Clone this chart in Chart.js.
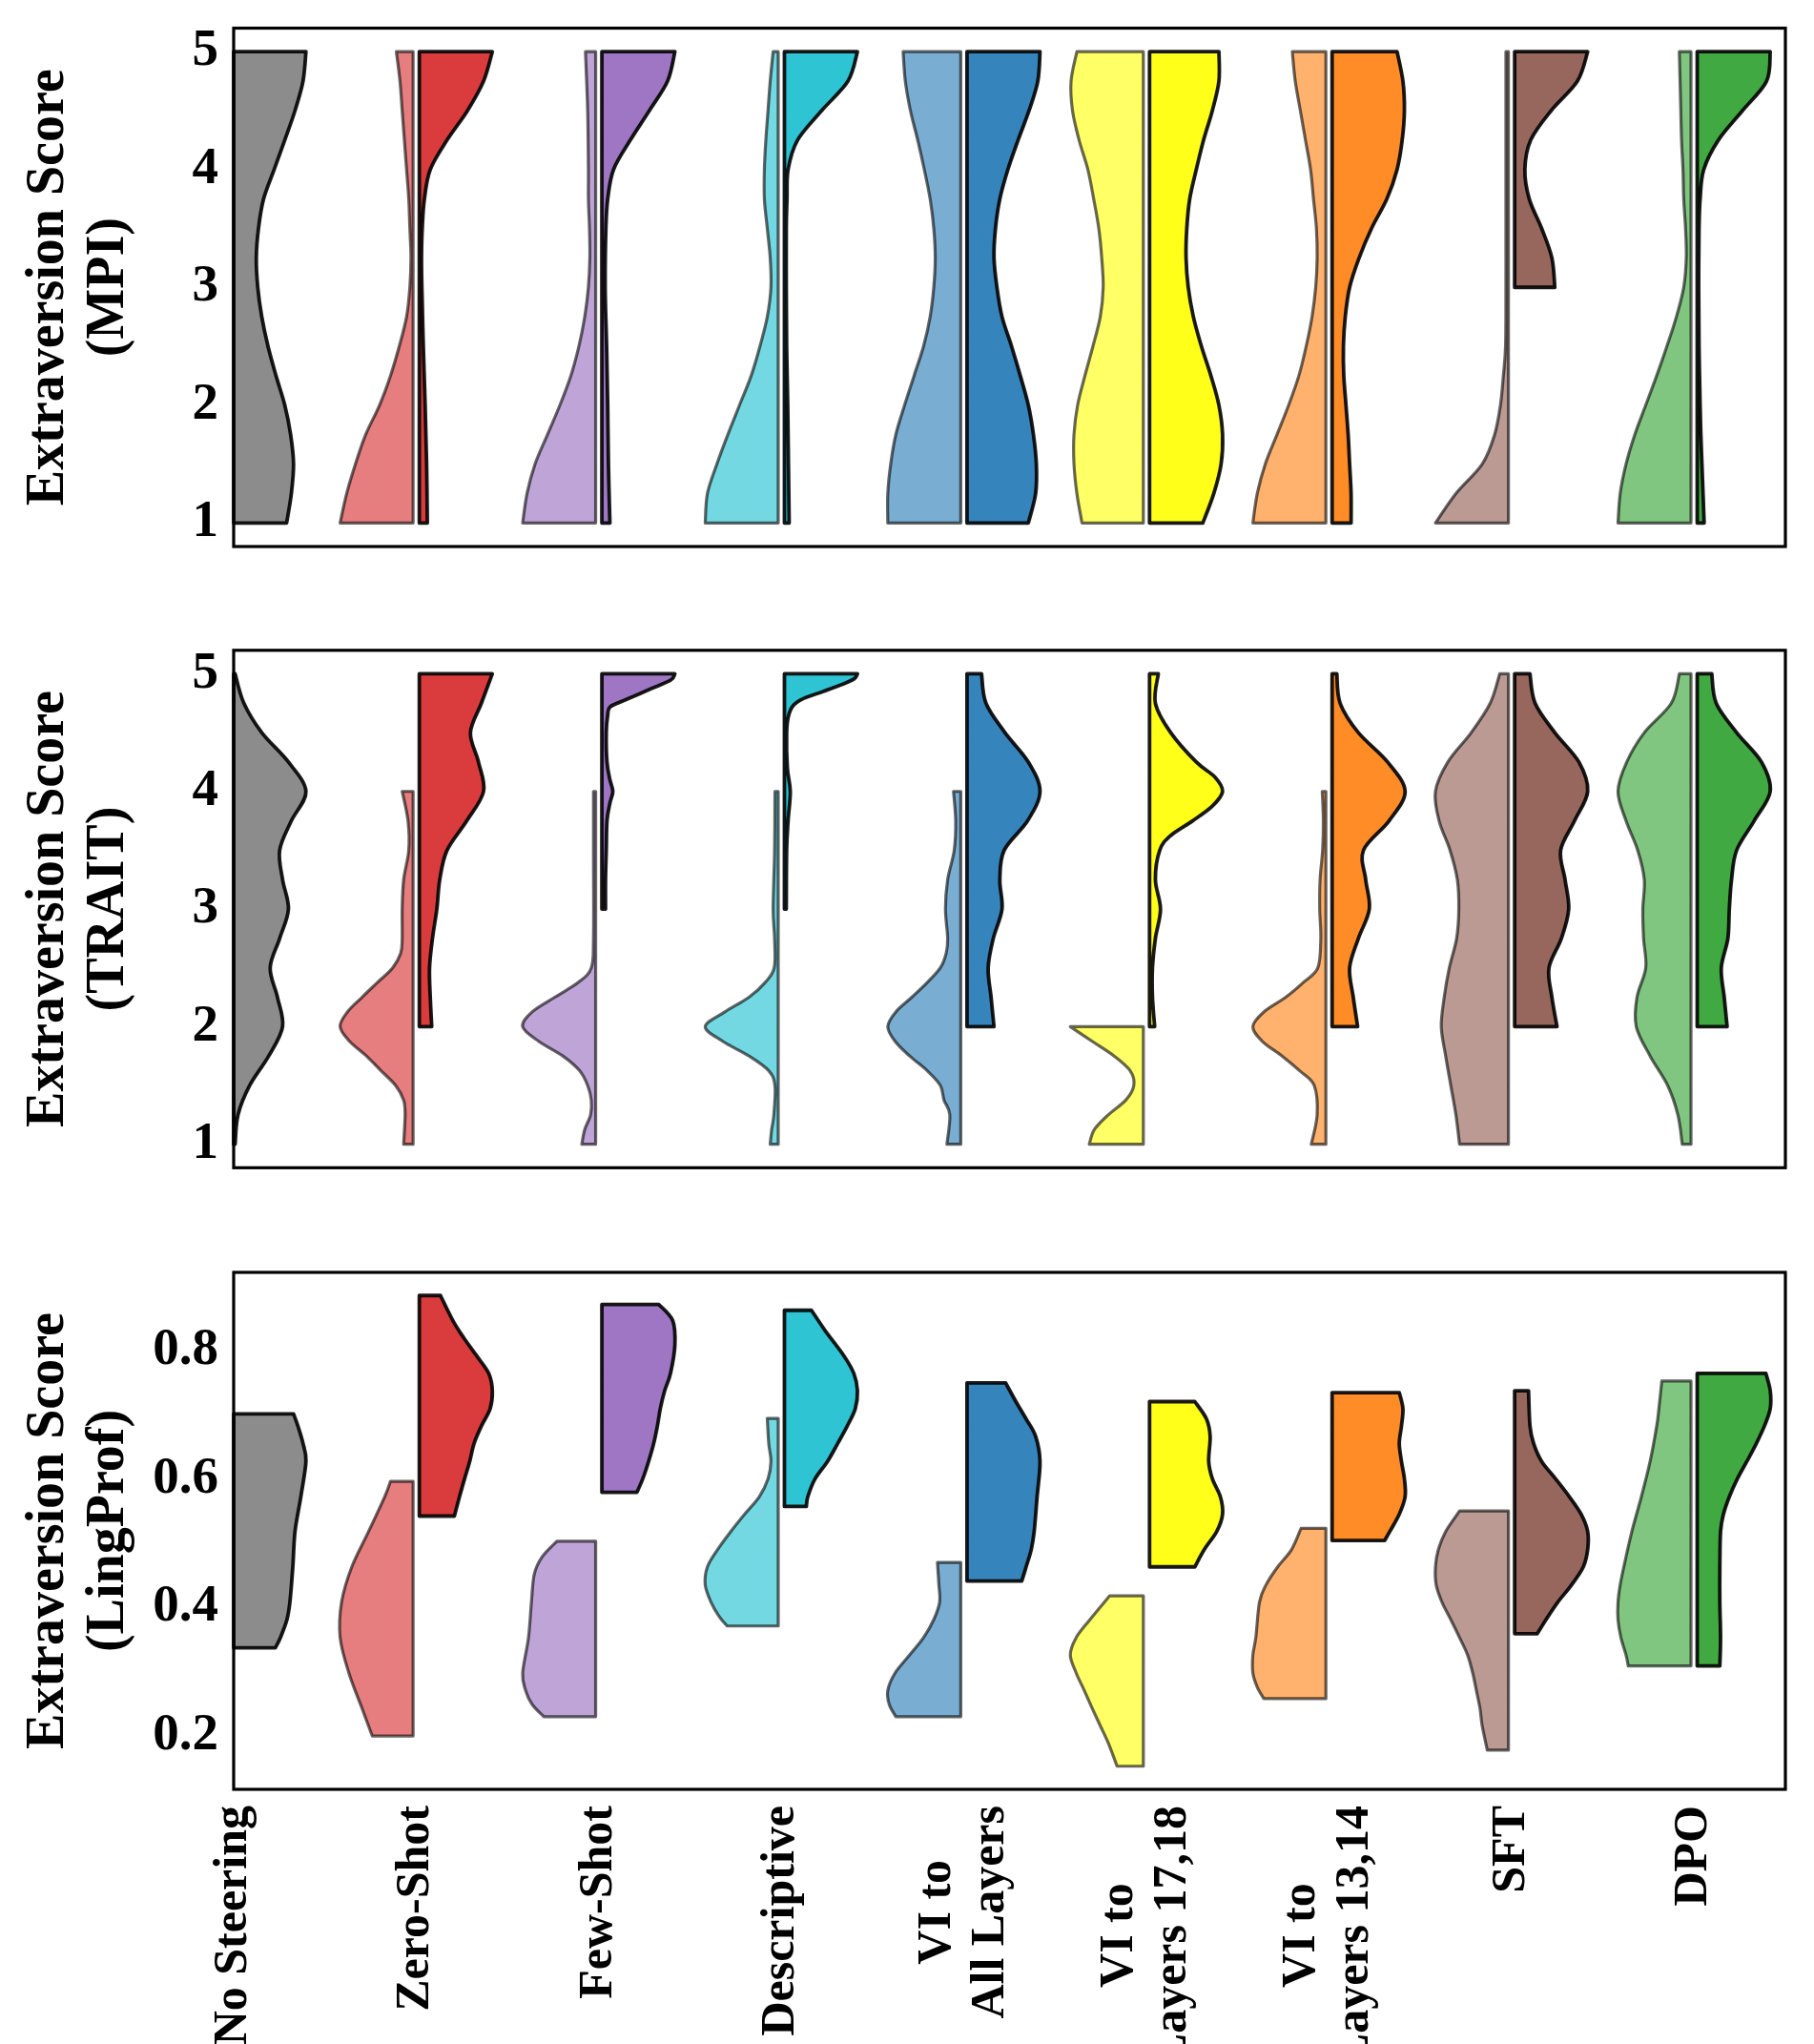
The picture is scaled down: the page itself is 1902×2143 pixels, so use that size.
<!DOCTYPE html>
<html>
<head>
<meta charset="utf-8">
<script src="https://cdn.jsdelivr.net/npm/chart.js@4.4.1/dist/chart.umd.min.js"></script>
<style>
  html, body { margin: 0; padding: 0; background: #fff; }
  body { width: 1902px; height: 2143px; position: relative; overflow: hidden; }
  .panel { position: absolute; left: 0; }
</style>
</head>
<body>
<div class="panel" style="top:0px"><canvas id="mpi" width="1902" height="620"></canvas></div>
<div class="panel" style="top:630px"><canvas id="trait" width="1902" height="620"></canvas></div>
<div class="panel" style="top:1260px"><canvas id="ling" width="1902" height="883"></canvas></div>
<script>
// categories along x
const methods = ["No Steering", "Zero-Shot", "Few-Shot", "Descriptive", "VI to All Layers",
  "VI to Layers 17,18", "VI to Layers 13,14", "SFT", "DPO"];
const methodLabels = [["No Steering"], ["Zero-Shot"], ["Few-Shot"], ["Descriptive"],
  ["VI to", "All Layers"], ["VI to", "Layers 17,18"], ["VI to", "Layers 13,14"], ["SFT"], ["DPO"]];
const colors = ["#7f7f7f", "#d62728", "#9467bd", "#17becf", "#1f77b4", "#ffff00", "#ff7f0e", "#8c564b", "#2ca02c"];

const scoreTicks = [1, 2, 3, 4, 5];
const lingTicks = [0.2, 0.4, 0.6, 0.8];

// violin outlines: [score, relative half width], bottom to top
// left halves (light) and right halves (dark), one entry per method
const mpiLeft = [
  null,
  [[1,1],[1.25,.91],[1.5,.79],[1.75,.65],[2,.46],[2.25,.31],[2.5,.19],[2.75,.09],[3,.045],[3.25,.03],[3.5,.045],[3.75,.06],[4,.09],[4.25,.12],[4.5,.15],[4.75,.18],[5,.23]],
  [[1,1],[1.25,.94],[1.5,.83],[1.75,.66],[2,.49],[2.25,.34],[2.5,.23],[2.75,.15],[3,.10],[3.25,.08],[3.5,.085],[3.75,.10],[4,.10],[4.5,.11],[5,.14]],
  [[1,1],[1.25,.97],[1.5,.84],[1.75,.69],[2,.53],[2.25,.37],[2.5,.25],[2.75,.15],[3,.10],[3.25,.11],[3.5,.15],[3.75,.19],[4,.19],[4.25,.17],[4.5,.14],[4.75,.11],[5,.07]],
  [[1,1],[1.25,1],[1.5,.96],[1.75,.89],[2,.77],[2.25,.64],[2.5,.51],[2.75,.42],[3,.37],[3.25,.35],[3.5,.37],[3.75,.42],[4,.50],[4.25,.59],[4.5,.69],[4.75,.76],[5,.79]],
  [[1,.84],[1.25,.91],[1.5,.95],[1.75,.95],[2,.90],[2.25,.80],[2.5,.69],[2.75,.59],[3,.55],[3.25,.57],[3.5,.61],[3.75,.68],[4,.76],[4.25,.88],[4.5,.97],[4.75,.99],[5,.91]],
  [[1,1],[1.25,.94],[1.5,.83],[1.75,.67],[2,.51],[2.25,.37],[2.5,.27],[2.75,.19],[3,.14],[3.25,.12],[3.5,.13],[3.75,.17],[4,.21],[4.25,.28],[4.5,.35],[4.75,.42],[5,.46]],
  [[1,1],[1.25,.72],[1.5,.36],[1.75,.19],[2,.11],[2.25,.07],[2.5,.04],[3,.035],[4,.035],[5,.035]],
  [[1,1],[1.25,.97],[1.5,.89],[1.75,.77],[2,.62],[2.25,.47],[2.5,.33],[2.75,.20],[3,.10],[3.25,.065],[3.5,.075],[3.75,.10],[4,.11],[4.25,.13],[4.5,.14],[4.75,.15],[5,.16]]
];
const mpiRight = [
  [[1,.725],[1.25,.79],[1.5,.82],[1.75,.78],[2,.70],[2.25,.58],[2.5,.47],[2.75,.385],[3,.33],[3.25,.31],[3.5,.34],[3.75,.41],[4,.555],[4.25,.70],[4.5,.84],[4.75,.95],[5,.99]],
  [[1,.11],[1.5,.10],[2,.08],[2.5,.055],[3,.035],[3.25,.03],[3.5,.04],[3.75,.07],[4,.15],[4.25,.38],[4.5,.66],[4.75,.88],[5,1]],
  [[1,.11],[1.5,.09],[2,.08],[2.5,.065],[3,.045],[3.5,.055],[3.75,.08],[4,.16],[4.25,.39],[4.5,.65],[4.75,.90],[5,1]],
  [[1,.065],[1.5,.055],[2,.045],[2.5,.03],[3,.025],[3.5,.025],[3.75,.035],[4,.05],[4.25,.18],[4.5,.51],[4.75,.87],[5,1]],
  [[1,.84],[1.25,.94],[1.5,.95],[1.75,.91],[2,.84],[2.25,.73],[2.5,.61],[2.75,.48],[3,.41],[3.25,.37],[3.5,.39],[3.75,.45],[4,.56],[4.25,.70],[4.5,.85],[4.75,.97],[5,1]],
  [[1,.73],[1.25,.88],[1.5,.98],[1.75,1],[2,.95],[2.25,.84],[2.5,.71],[2.75,.60],[3,.53],[3.25,.50],[3.5,.51],[3.75,.55],[4,.64],[4.25,.74],[4.5,.86],[4.75,.95],[5,.95]],
  [[1,.26],[1.25,.26],[1.5,.24],[1.75,.22],[2,.19],[2.25,.16],[2.5,.155],[2.75,.18],[3,.24],[3.25,.37],[3.5,.54],[3.75,.75],[4,.89],[4.25,.96],[4.5,.99],[4.75,.97],[5,.89]],
  [[3,.55],[3.25,.51],[3.5,.37],[3.75,.20],[4,.14],[4.25,.22],[4.5,.50],[4.75,.86],[5,1]],
  [[1,.095],[1.25,.08],[1.5,.065],[1.75,.05],[2,.04],[2.5,.025],[3,.02],[3.5,.025],[3.75,.04],[4,.09],[4.25,.29],[4.5,.62],[4.75,.95],[5,1]]
];

const traitLeft = [
  null,
  [[1,.13],[1.25,.11],[1.375,.13],[1.5,.24],[1.625,.44],[1.75,.64],[1.875,.87],[2,1],[2.125,.90],[2.25,.70],[2.375,.49],[2.5,.28],[2.625,.17],[2.75,.15],[3,.15],[3.25,.13],[3.5,.06],[3.75,.07],[4,.15]],
  [[1,.19],[1.125,.15],[1.25,.07],[1.375,.06],[1.5,.11],[1.625,.22],[1.75,.45],[1.875,.78],[2,1],[2.125,.87],[2.25,.56],[2.375,.24],[2.5,.06],[2.75,.03],[3.5,.03],[4,.03]],
  [[1,.11],[1.125,.09],[1.25,.06],[1.5,.045],[1.625,.13],[1.75,.40],[1.875,.76],[2,1],[2.125,.73],[2.25,.40],[2.375,.18],[2.5,.055],[2.75,.05],[3,.07],[3.5,.05],[4,.045]],
  [[1,.19],[1.25,.15],[1.375,.23],[1.5,.28],[1.625,.46],[1.75,.70],[1.875,.90],[2,1],[2.125,.89],[2.25,.67],[2.375,.46],[2.5,.28],[2.625,.20],[2.75,.18],[3,.21],[3.25,.18],[3.5,.09],[3.75,.07],[4,.10]],
  [[1,.74],[1.125,.67],[1.25,.48],[1.375,.24],[1.5,.13],[1.625,.18],[1.75,.40],[1.875,.70],[2,1]],
  [[1,.20],[1.25,.12],[1.5,.16],[1.625,.36],[1.75,.60],[1.875,.87],[2,1],[2.125,.85],[2.25,.55],[2.375,.31],[2.5,.11],[2.75,.07],[3,.085],[3.25,.08],[3.5,.045],[3.75,.035],[4,.05]],
  [[1,.67],[1.25,.72],[1.5,.79],[1.75,.86],[2,.92],[2.25,.88],[2.5,.81],[2.75,.71],[3,.68],[3.25,.70],[3.5,.80],[3.75,.95],[4,1],[4.25,.83],[4.5,.51],[4.75,.25],[5,.12]],
  [[1,.12],[1.25,.18],[1.5,.32],[1.75,.56],[2,.75],[2.25,.74],[2.5,.62],[2.75,.65],[3,.66],[3.25,.64],[3.5,.73],[3.75,.89],[4,1],[4.25,.88],[4.5,.64],[4.75,.27],[5,.16]]
];
const traitRight = [
  [[1,.02],[1.25,.06],[1.5,.22],[1.75,.48],[2,.67],[2.25,.60],[2.5,.50],[2.75,.63],[3,.75],[3.25,.67],[3.5,.63],[3.75,.79],[4,.99],[4.25,.75],[4.5,.385],[4.75,.14],[5,.02]],
  [[2,.17],[2.25,.15],[2.5,.14],[2.75,.18],[3,.24],[3.25,.28],[3.5,.38],[3.75,.65],[4,.88],[4.25,.81],[4.5,.70],[4.75,.85],[5,1]],
  [[3,.05],[3.25,.05],[3.5,.06],[3.75,.07],[3.9,.11],[4,.15],[4.1,.11],[4.25,.07],[4.5,.06],[4.65,.08],[4.72,.115],[4.78,.33],[4.87,.66],[4.945,.94],[5,1]],
  [[3,.025],[3.5,.03],[3.75,.05],[4,.08],[4.2,.04],[4.5,.03],[4.64,.055],[4.73,.12],[4.79,.26],[4.85,.53],[4.915,.81],[4.96,.96],[5,1]],
  [[2,.37],[2.25,.33],[2.5,.29],[2.75,.36],[3,.48],[3.25,.45],[3.5,.51],[3.75,.83],[4,1],[4.25,.84],[4.5,.52],[4.75,.26],[5,.20]],
  [[2,.07],[2.25,.04],[2.5,.04],[2.75,.08],[3,.15],[3.25,.08],[3.5,.14],[3.625,.29],[3.75,.59],[3.875,.86],[4,1],[4.125,.89],[4.25,.64],[4.5,.29],[4.75,.08],[5,.12]],
  [[2,.35],[2.25,.29],[2.5,.24],[2.75,.36],[3,.51],[3.25,.46],[3.5,.43],[3.75,.78],[4,1],[4.25,.76],[4.5,.36],[4.75,.11],[5,.065]],
  [[2,.58],[2.25,.51],[2.5,.47],[2.75,.64],[3,.74],[3.25,.69],[3.5,.63],[3.75,.82],[4,1],[4.25,.88],[4.5,.55],[4.75,.28],[5,.21]],
  [[2,.41],[2.25,.37],[2.5,.33],[2.75,.42],[3,.44],[3.25,.47],[3.5,.54],[3.75,.78],[4,1],[4.25,.88],[4.5,.54],[4.75,.26],[5,.20]]
];

const lingLeft = [
  null,
  [[.2,.56],[.243,.70],[.298,.88],[.353,1],[.408,.98],[.463,.84],[.518,.61],[.572,.39],[.596,.31]],
  [[.230,.71],[.249,.87],[.271,.96],[.298,1],[.353,.92],[.408,.88],[.452,.84],[.479,.73],[.503,.53]],
  [[.371,.70],[.386,.81],[.408,.92],[.435,1],[.463,.97],[.490,.83],[.518,.65],[.545,.46],[.572,.26],[.600,.14],[.627,.10],[.655,.13],[.694,.15]],
  [[.230,.89],[.249,.98],[.271,1],[.298,.90],[.326,.70],[.353,.51],[.381,.37],[.408,.29],[.435,.30],[.470,.32]],
  [[.153,.36],[.189,.48],[.216,.59],[.243,.70],[.271,.81],[.298,.92],[.326,1],[.353,.92],[.381,.73],[.418,.46]],
  [[.258,.85],[.276,.94],[.298,1],[.326,1],[.353,.96],[.408,.91],[.435,.82],[.463,.66],[.490,.47],[.523,.34]],
  [[.178,.29],[.216,.36],[.243,.39],[.271,.44],[.298,.49],[.326,.56],[.353,.67],[.381,.79],[.408,.91],[.435,.99],[.463,1],[.490,.96],[.518,.86],[.550,.67]],
  [[.309,.86],[.326,.89],[.353,.96],[.381,1],[.408,1],[.435,.97],[.463,.92],[.518,.81],[.572,.68],[.627,.56],[.682,.47],[.709,.44],[.752,.40]]
];
const lingRight = [
  [[.337,.57],[.353,.64],[.381,.73],[.408,.77],[.463,.81],[.518,.84],[.572,.92],[.627,.99],[.655,.95],[.682,.88],[.701,.82]],
  [[.542,.48],[.572,.55],[.600,.62],[.627,.69],[.655,.75],[.682,.85],[.709,.97],[.737,1],[.764,.95],[.792,.78],[.819,.61],[.846,.46],[.885,.29]],
  [[.579,.48],[.600,.56],[.627,.64],[.655,.71],[.682,.76],[.709,.80],[.737,.86],[.764,.94],[.808,1],[.846,.97],[.871,.78]],
  [[.557,.30],[.572,.32],[.600,.42],[.627,.59],[.655,.73],[.682,.86],[.709,.97],[.737,1],[.764,.95],[.792,.81],[.830,.56],[.862,.37]],
  [[.441,.75],[.463,.81],[.490,.88],[.518,.92],[.572,.96],[.627,1],[.666,.94],[.693,.81],[.720,.67],[.749,.53]],
  [[.463,.62],[.490,.75],[.518,.92],[.545,1],[.572,.97],[.600,.86],[.627,.81],[.666,.83],[.693,.78],[.720,.62]],
  [[.504,.72],[.518,.79],[.545,.92],[.572,1],[.600,.99],[.627,.95],[.655,.92],[.682,.95],[.709,.97],[.734,.92]],
  [[.359,.31],[.381,.43],[.408,.59],[.435,.78],[.463,.94],[.490,1],[.518,1],[.545,.91],[.572,.75],[.600,.56],[.627,.37],[.655,.26],[.682,.21],[.737,.19]],
  [[.309,.31],[.353,.32],[.408,.31],[.463,.31],[.518,.32],[.545,.36],[.572,.44],[.600,.55],[.627,.68],[.655,.81],[.682,.92],[.709,1],[.737,1],[.764,.94]]
];

const HALF = 0.4;   // max half width of a violin, in category units
const GAP = 0.017;  // space between the two halves
const FONT = "Liberation Serif";

function rgba(hex, a) {
  const n = parseInt(hex.slice(1), 16);
  return "rgba(" + (n >> 16) + "," + ((n >> 8) & 255) + "," + (n & 255) + "," + a + ")";
}

function buildDatasets(left, right) {
  const sets = [];
  methods.forEach((m, i) => {
    const g = i === 0 ? 0 : GAP;
    [[left[i], -1, 0.6, 3.2], [right[i], 1, 0.9, 3.8]].forEach(([pairs, side, alpha, lw]) => {
      if (!pairs) return;
      const inner = i + side * g;
      sets.push({
        label: m,
        inner: inner,
        data: pairs.map(([v, w]) => ({ x: inner + side * w * HALF, y: v })),
        backgroundColor: rgba(colors[i], alpha),
        borderColor: "rgba(0,0,0," + alpha + ")",
        borderWidth: lw,
        pointRadius: 0,
        showLine: false
      });
    });
  });
  return sets;
}

// fills each half violin through the points the scatter controller placed
const violinPlugin = {
  id: "violins",
  afterDatasetsDraw(chart) {
    const ctx = chart.ctx, xs = chart.scales.x;
    chart.data.datasets.forEach((ds, i) => {
      const pts = chart.getDatasetMeta(i).data.map(p => ({ x: p.x, y: p.y }));
      if (pts.length < 2) return;
      const xi = xs.getPixelForValue(ds.inner);
      const n = pts.length;
      ctx.save();
      ctx.beginPath();
      ctx.moveTo(xi, pts[0].y);
      ctx.lineTo(pts[0].x, pts[0].y);
      for (let k = 0; k < n - 1; k++) {
        const p0 = pts[Math.max(k - 1, 0)], p1 = pts[k], p2 = pts[k + 1], p3 = pts[Math.min(k + 2, n - 1)];
        ctx.bezierCurveTo(
          p1.x + (p2.x - p0.x) / 6, p1.y + (p2.y - p0.y) / 6,
          p2.x - (p3.x - p1.x) / 6, p2.y - (p3.y - p1.y) / 6,
          p2.x, p2.y);
      }
      ctx.lineTo(xi, pts[n - 1].y);
      ctx.closePath();
      ctx.fillStyle = ds.backgroundColor;
      ctx.fill();
      ctx.lineWidth = ds.borderWidth;
      ctx.lineJoin = "round";
      ctx.strokeStyle = ds.borderColor;
      ctx.stroke();
      ctx.restore();
    });
  }
};

const framePlugin = {
  id: "frame",
  afterDraw(chart) {
    const a = chart.chartArea, ctx = chart.ctx;
    ctx.save();
    ctx.lineWidth = 3.2;
    ctx.strokeStyle = "#000";
    ctx.strokeRect(a.left, a.top, a.right - a.left, a.bottom - a.top);
    ctx.restore();
  }
};

// category names under the last panel, rotated, multi-line blocks centred
const xLabelPlugin = {
  id: "xlabels",
  afterDraw(chart) {
    const ctx = chart.ctx, xs = chart.scales.x;
    const pitch = 56;
    ctx.save();
    ctx.font = "bold 50px '" + FONT + "'";
    ctx.fillStyle = "#000";
    ctx.textAlign = "center";
    ctx.textBaseline = "middle";
    methodLabels.forEach((lines, i) => {
      const cx = xs.getPixelForValue(i);
      const len = Math.max(...lines.map(l => ctx.measureText(l).width));
      const cy = chart.chartArea.bottom + 17 + len / 2;
      lines.forEach((l, k) => {
        ctx.save();
        ctx.translate(cx + (k - (lines.length - 1) / 2) * pitch, cy);
        ctx.rotate(-Math.PI / 2);
        ctx.fillText(l, 0, 0);
        ctx.restore();
      });
    });
    ctx.restore();
  }
};

function makePanel(id, left, right, yMin, yMax, ticks, title, padTop, padBottom, extra) {
  return new Chart(document.getElementById(id), {
    type: "scatter",
    data: { datasets: buildDatasets(left, right) },
    plugins: [violinPlugin, framePlugin].concat(extra || []),
    options: {
      responsive: false,
      animation: false,
      devicePixelRatio: 1,
      events: [],
      layout: { padding: { top: padTop, bottom: padBottom, left: 0, right: 30 } },
      plugins: { legend: { display: false }, tooltip: { enabled: false } },
      scales: {
        x: { type: "linear", min: 0, max: 8.5, display: false },
        y: {
          type: "linear",
          min: yMin,
          max: yMax,
          afterBuildTicks: s => { s.ticks = ticks.map(v => ({ value: v })); },
          afterFit: s => { s.width = 245; s.paddingTop = 0; s.paddingBottom = 0; },
          grid: { display: false, drawTicks: false },
          border: { display: false },
          ticks: {
            padding: 16,
            color: "#000",
            font: { family: FONT, weight: "bold", size: 55 },
            callback: v => String(v)
          },
          title: {
            display: true,
            text: ["Extraversion Score", title],
            color: "#000",
            font: { family: FONT, weight: "bold", size: 56, lineHeight: 1.12 },
            padding: { top: 20, bottom: 0 }
          }
        }
      }
    }
  });
}

makePanel("mpi", mpiLeft, mpiRight, 0.8, 5.2, scoreTicks, "(MPI)", 29.5, 47);
makePanel("trait", traitLeft, traitRight, 0.8, 5.2, scoreTicks, "(TRAIT)", 51.8, 25.7);
makePanel("ling", lingLeft, lingRight, 0.117, 0.921, lingTicks, "(LingProf)", 74, 267, [xLabelPlugin]);
</script>
</body>
</html>
